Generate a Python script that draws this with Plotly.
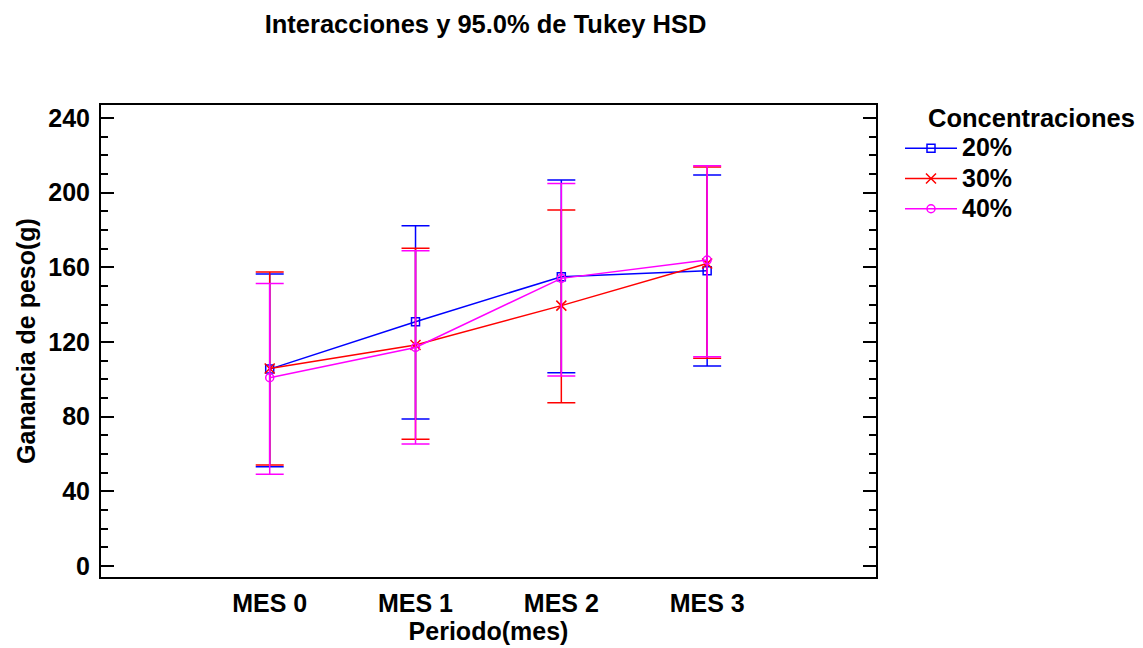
import plotly.graph_objects as go

periods = ["MES 0", "MES 1", "MES 2", "MES 3"]
series_names = ["20%", "30%", "40%"]

mean_20 = [105.5, 130.9, 155.0, 158.2]
upper_20 = [156.4, 182.3, 206.8, 209.5]
lower_20 = [53.2, 78.8, 103.6, 107.1]

mean_30 = [105.8, 118.4, 139.5, 162.1]
upper_30 = [157.5, 170.2, 190.7, 213.8]
lower_30 = [54.1, 67.9, 87.5, 111.3]

mean_40 = [100.9, 117.1, 154.1, 163.9]
upper_40 = [151.4, 168.9, 205.0, 214.5]
lower_40 = [49.1, 65.4, 101.8, 112.1]

y_ticks = [0, 40, 80, 120, 160, 200, 240]

colors = ["#0000FF", "#FF0000", "#FF00FF"]
symbols = ["square-open", "x-thin-open", "circle-open"]
sizes = [8, 10, 8]

FONT = "Liberation Sans, Arial, sans-serif"
FS = 25

# page body has an 8px margin: figure is placed at (8, 8)
W, H = 1135, 640
L, R, T, B = 93, 267, 97, 71
PW = W - L - R
PH = H - T - B

fig = go.Figure()
data = [(mean_20, upper_20, lower_20), (mean_30, upper_30, lower_30), (mean_40, upper_40, lower_40)]
for name, (m, u, l), c, s, sz in zip(series_names, data, colors, symbols, sizes):
    fig.add_trace(go.Scatter(
        x=periods, y=m, name="<span style='font-size:25px'><b>%s</b></span>" % name,
        mode="lines+markers",
        line=dict(color=c, width=1.5),
        marker=dict(symbol=s, size=sz, color=c, line=dict(color=c, width=1.5)),
        error_y=dict(type="data", symmetric=False,
                     array=[ui - mi for ui, mi in zip(u, m)],
                     arrayminus=[mi - li for mi, li in zip(m, l)],
                     color=c, thickness=1.5, width=14),
    ))

fig.update_layout(
    width=W, height=H,
    paper_bgcolor="white", plot_bgcolor="white",
    margin=dict(l=L, r=R, t=T, b=B, autoexpand=False),
    font=dict(family=FONT, size=FS, color="black"),
    title=dict(text="<b>Interacciones y 95.0% de Tukey HSD</b>", x=(485.5 - 8) / W, xanchor="center",
               y=1 - (24 - 8) / H, yanchor="middle", font=dict(size=25.5, family=FONT)),
    showlegend=True,
    legend=dict(x=1.0 + 24 / PW, xanchor="left", y=1.0 - 23 / PH, yanchor="top",
                xref="paper", yref="paper",
                font=dict(size=21, family=FONT), itemwidth=52,
                tracegroupgap=0, bgcolor="rgba(0,0,0,0)"),
    annotations=[dict(text="<b>Concentraciones</b>", x=1.0 + (926 - 876) / PW, xanchor="left",
                      y=(577 - 118) / PH, yanchor="middle", xref="paper", yref="paper",
                      showarrow=False, font=dict(size=25.5, family=FONT))],
)

fig.update_xaxes(
    type="category", range=[-1.157, 4.158],
    showline=True, linecolor="black", linewidth=2, mirror=True,
    ticks="", showgrid=False, zeroline=False, automargin=False,
    ticklabelstandoff=3,
    tickfont=dict(size=FS, family=FONT),
    ticktext=["<b>" + p + "</b>" for p in periods], tickvals=periods,
    title=dict(text="<b>Periodo(mes)</b>", font=dict(size=FS, family=FONT), standoff=6),
)
fig.update_yaxes(
    range=[-5.9, 247.0],
    tickvals=y_ticks, ticktext=["<b>%d</b>" % v for v in y_ticks],
    showline=True, linecolor="black", linewidth=2, mirror="allticks",
    ticks="inside", ticklen=13, tickwidth=2, tickcolor="black",
    minor=dict(ticks="inside", ticklen=7, tickwidth=2, tickcolor="black", dtick=10, showgrid=False),
    showgrid=False, zeroline=False, automargin=False,
    ticklabelstandoff=4,
    tickfont=dict(size=FS, family=FONT),
    title=dict(text="<b>Ganancia de peso(g)</b>", font=dict(size=FS, family=FONT), standoff=6),
)

fig.write_html("out.html")
